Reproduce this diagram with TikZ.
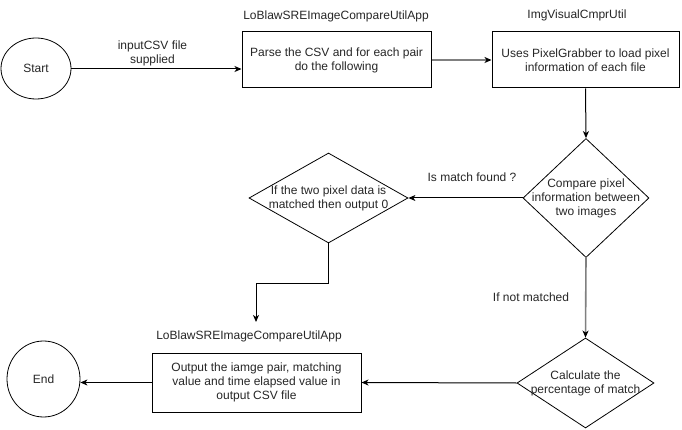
\documentclass[tikz,border=0pt]{standalone}
\usepackage{fontspec}
\setmainfont{Liberation Sans}
\usetikzlibrary{arrows.meta,shapes.geometric}
\begin{document}
\begin{tikzpicture}[x=1pt,y=-1pt,
  every node/.style={font=\fontsize{12}{14}\selectfont, text=black!85},
  boxnode/.style={draw, line width=1pt, rectangle, inner sep=0pt, align=center},
  roundnode/.style={draw, line width=0.8pt, ellipse, inner sep=0pt},
  dianode/.style={draw, line width=0.8pt, diamond, inner sep=0pt},
  txt/.style={align=center, inner sep=0pt},
  conn/.style={line width=1pt, -{Stealth[length=7pt,width=6pt,inset=2pt]}},
  grayconn/.style={line width=1.6pt, draw=black!50, -{Stealth[length=7pt,width=6pt,inset=2pt,color=black]}}
]
\useasboundingbox (0,0) rectangle (682,430);

\node[roundnode, minimum width=70, minimum height=61] (start) at (36,68.5) {Start};
\node[boxnode, minimum width=189, minimum height=56] (box1) at (336.5,60) {Parse the CSV and for each pair\\do the following};
\node[txt] (t1) at (336,16) {LoBlawSREImageCompareUtilApp};
\node[boxnode, minimum width=187, minimum height=56] (box2) at (585.5,60) {Uses PixelGrabber to load pixel\\information of each file};
\node[txt] (t2) at (577,15) {ImgVisualCmprUtil};

\node[dianode, minimum width=126, minimum height=119,
  label={[txt]center:Compare pixel\\information between\\two images}] (dia1) at (586,198) {};
\node[dianode, minimum width=159, minimum height=90,
  label={[txt]center:If the two pixel data is\\matched then output 0}] (dia2) at (328.5,198) {};
\node[dianode, minimum width=137, minimum height=90,
  label={[txt]center:Calculate the\\percentage of match}] (dia3) at (585.5,383) {};

\node[boxnode, minimum width=209, minimum height=59] (box3) at (256.5,382.5) {Output the iamge pair, matching\\value and time elapsed value in\\output CSV file};
\node[txt] (t3) at (249,336) {LoBlawSREImageCompareUtilApp};
\node[roundnode, minimum width=73, minimum height=76] (end) at (43.5,379) {End};

\coordinate (bend1) at (328.5,283);
\coordinate (tip3) at (256,322);

\draw[conn] (start.east |- 0,69) -- node[txt, above=3pt, xshift=-4pt]{inputCSV file\\supplied} (box1.west |- 0,69);
\draw[grayconn] (box1.east) -- (box2.west);
\draw[conn] (box2.south) -- (dia1.north);
\draw[conn] (dia1.west) -- (dia2.east);
\node[txt] (l1) at (472,177) {Is match found ?};
\draw[line width=1pt] (dia2.south) -- (bend1);
\draw[conn] (bend1) -| (tip3);
\draw[grayconn] (dia1.south) -- (dia3.north);
\node[txt] (l2) at (531,297) {If not matched};
\draw[conn] (dia3.west) -- (box3.east);
\draw[conn] (box3.west) -- (end.east |- box3.west);
\end{tikzpicture}
\end{document}
